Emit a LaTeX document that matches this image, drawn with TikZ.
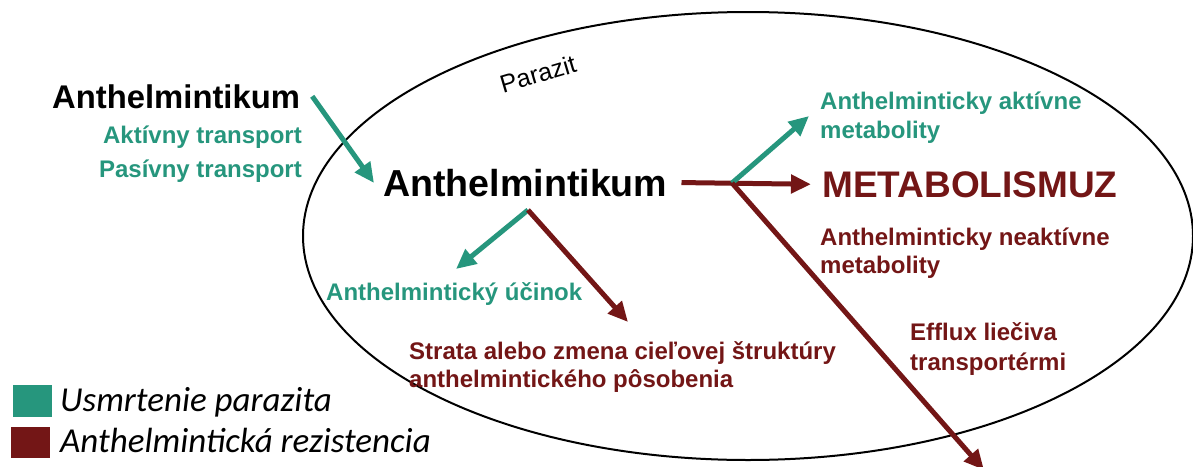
\documentclass[tikz,border=0pt]{standalone}
\usepackage{fontspec}
\setmainfont{Liberation Sans}
\newfontfamily\legendfont{Carlito}
\usetikzlibrary{arrows.meta}
\definecolor{killgreen}{RGB}{38,150,125}
\definecolor{resred}{RGB}{115,22,22}
\begin{document}
\begin{tikzpicture}[x=1pt,y=-1pt,
  txt/.style={inner sep=0pt, anchor=base west},
  lbl/.style={txt, font=\bfseries\fontsize{24}{29}\selectfont},
  glbl/.style={lbl, text=killgreen},
  rlbl/.style={lbl, text=resred},
  drug/.style={txt, font=\bfseries\fontsize{#1}{#1}\selectfont},
  legtxt/.style={txt, font=\legendfont\itshape\fontsize{35}{35}\selectfont},
  arr/.style={line width=5pt, -{Triangle[length=20pt,width=18pt]}},
  garrow/.style={arr, draw=killgreen, fill=killgreen},
  rarrow/.style={arr, draw=resred, fill=resred}]
\useasboundingbox (0,0) rectangle (1193,466);

% the parasite body
\draw[line width=2pt] (748,236) ellipse [x radius=445, y radius=224];
\node[inner sep=0pt, rotate=16.5, font=\fontsize{25}{25}\selectfont] (par) at (538,74) {Parazit};

% drug outside and inside the parasite
\node[drug=32.8] (a1) at (52,108) {Anthelmintikum};
\node[glbl, anchor=base east] (akt) at (302,143) {Aktívny transport};
\node[glbl, anchor=base east] (pas) at (302,177) {Pasívny transport};
\node[drug=37.6] (a2) at (383,196) {Anthelmintikum};

% drug action
\node[glbl] (ucin) at (326,300) {Anthelmintický účinok};
\node[rlbl] (str1) at (409,359) {Strata alebo zmena cieľovej štruktúry};
\node[rlbl] (str2) at (409,387) {anthelmintického pôsobenia};

% metabolism
\node[glbl] (akm1) at (820,109) {Anthelminticky aktívne};
\node[glbl] (akm2) at (820,138) {metabolity};
\node[drug=37, text=resred] (metab) at (822,197) {METABOLISMUZ};
\node[rlbl] (nak1) at (820,245) {Anthelminticky neaktívne};
\node[rlbl] (nak2) at (820,273) {metabolity};

% efflux
\node[rlbl] (eff1) at (910,340) {Efflux liečiva};
\node[rlbl] (eff2) at (910,370) {transportérmi};

% branching points and arrow ends
\coordinate (j1) at (528,210);
\coordinate (j2) at (732,183);
\coordinate (tipU) at (456,269);
\coordinate (tipS) at (628,322);
\coordinate (tipA) at (809,116);
\coordinate (tipE) at (984,470);

% connectors
\draw[garrow] (a1.east) ++(12,0) -- (374,183);
\draw[garrow] (j1) -- (tipU);
\draw[rarrow] (j1) -- (tipS);
\draw[rarrow] (a2.east) ++(14,0) -- ([xshift=-11pt]metab.west);
\draw[garrow] (j2) -- (tipA);
\draw[rarrow] (j2) -- (tipE);

% legend
\fill[killgreen] (13,385) rectangle (52,417);
\node[legtxt] (leg1) at (60,411) {Usmrtenie parazita};
\fill[resred] (11,427) rectangle (50,458);
\node[legtxt] (leg2) at (60,452) {Anthelmintická rezistencia};
\end{tikzpicture}
\end{document}
